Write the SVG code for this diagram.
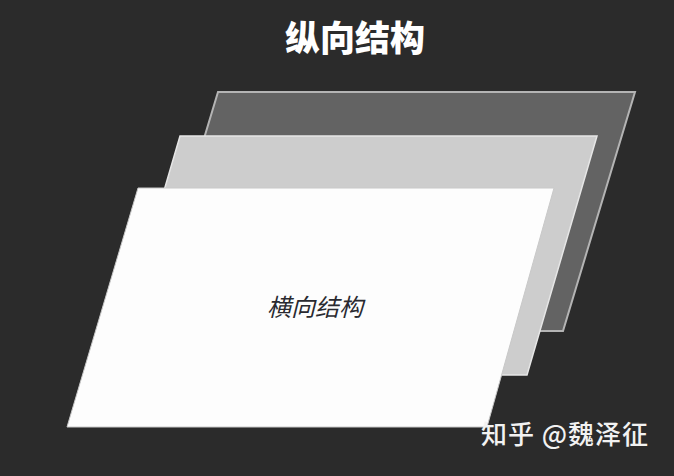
<svg xmlns="http://www.w3.org/2000/svg" width="674" height="476" viewBox="0 0 674 476">
<style>
.cjk{font-family:"Noto Sans CJK SC","Noto Sans",sans-serif}
.title{font-size:35px;font-weight:900;fill:#ffffff}
.label{font-size:24px;font-style:italic;fill:#2a2a30}
.mark{font-size:26px;font-weight:500;fill:#f2f2f2;letter-spacing:1px}
</style>
<rect x="0" y="0" width="674" height="476" fill="#2b2b2b"/>
<text class="cjk title" x="355" y="51" text-anchor="middle">纵向结构</text>
<g id="layer-back">
<polygon points="218,92 635,92 563,331 146,331" fill="#636363" stroke="#b4b4b4" stroke-width="2"/>
</g>
<g id="layer-middle">
<polygon points="180,136 597,136 527,375 110,375" fill="#cdcdcd" stroke="#e6e6e6" stroke-width="1.5"/>
</g>
<g id="layer-front">
<polygon points="138,188 554,188 487,427 67,427" fill="#fdfdfd" stroke="#c8c8c8" stroke-width="1"/>
<text class="cjk label" x="315" y="316" text-anchor="middle">横向结构</text>
</g>
<text class="cjk mark" x="649" y="444" text-anchor="end">知乎 @魏泽征</text>
</svg>
